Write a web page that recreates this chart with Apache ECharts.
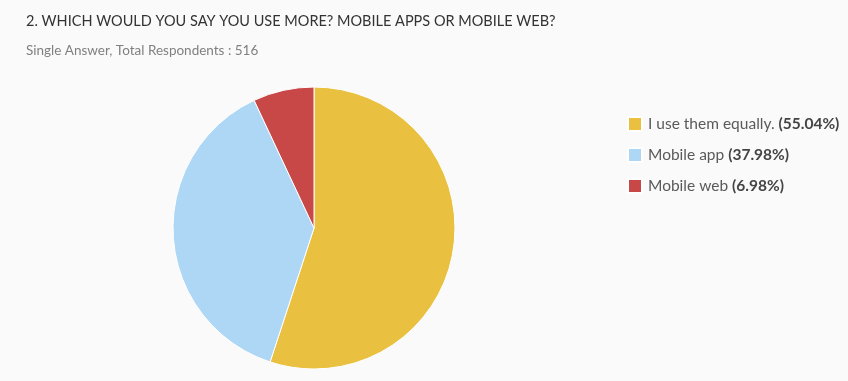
<!DOCTYPE html>
<html style="height: 100%">
<head>
<meta charset="utf-8">
</head>
<body style="height: 100%; margin: 0; background: #fafafa">
	<div id="container" style="width: 848px; height: 381px"></div>
	<script type="text/javascript"
		src="https://cdn.jsdelivr.net/npm/echarts/dist/echarts.min.js"></script>
	<script type="text/javascript">
		var names = [ 'I use them equally.', 'Mobile app', 'Mobile web' ];
		var percents = [ 55.04, 37.98, 6.98 ];
		var colors = [ '#e9c03f', '#aed6f5', '#c84848' ];

		var pieData = [];
		for (var i = 0; i < names.length; i++) {
			pieData.push({
				name : names[i],
				value : percents[i],
				itemStyle : {
					color : colors[i]
				}
			});
		}

		var dom = document.getElementById("container");
		var myChart = echarts.init(dom);
		var option = {
			backgroundColor : '#fafafa',
			animation : false,
			title : [ {
				text : '2. WHICH WOULD YOU SAY YOU USE MORE? MOBILE APPS OR MOBILE WEB?',
				left : 21,
				top : 9,
				textStyle : {
					fontFamily : 'Lato',
					fontSize : 14.5,
					fontWeight : 'normal',
					color : '#333'
				}
			}, {
				text : 'Single Answer, Total Respondents : 516',
				left : 21,
				top : 39,
				textStyle : {
					fontFamily : 'Lato',
					fontSize : 13.5,
					fontWeight : 'normal',
					color : '#808080'
				}
			} ],
			legend : {
				orient : 'vertical',
				left : 622,
				top : 111,
				itemWidth : 14,
				itemHeight : 14,
				itemGap : 15,
				icon : 'rect',
				data : names,
				formatter : function(name) {
					var idx = names.indexOf(name);
					return name + ' {b|(' + percents[idx].toFixed(2) + '%)}';
				},
				textStyle : {
					fontFamily : 'Lato',
					fontSize : 15.5,
					color : '#5a5a5a',
					padding : [ 0, 0, 0, 1 ],
					rich : {
						b : {
							fontFamily : 'Lato',
							fontSize : 15.5,
							fontWeight : 'bold',
							color : '#444'
						}
					}
				}
			},
			series : [ {
				type : 'pie',
				center : [ 314, 228 ],
				radius : 141,
				startAngle : 90,
				clockwise : true,
				label : {
					show : false
				},
				labelLine : {
					show : false
				},
				itemStyle : {
					borderColor : '#ffffff',
					borderWidth : 1
				},
				data : pieData
			} ]
		};
		myChart.setOption(option);
	</script>
</body>
</html>
